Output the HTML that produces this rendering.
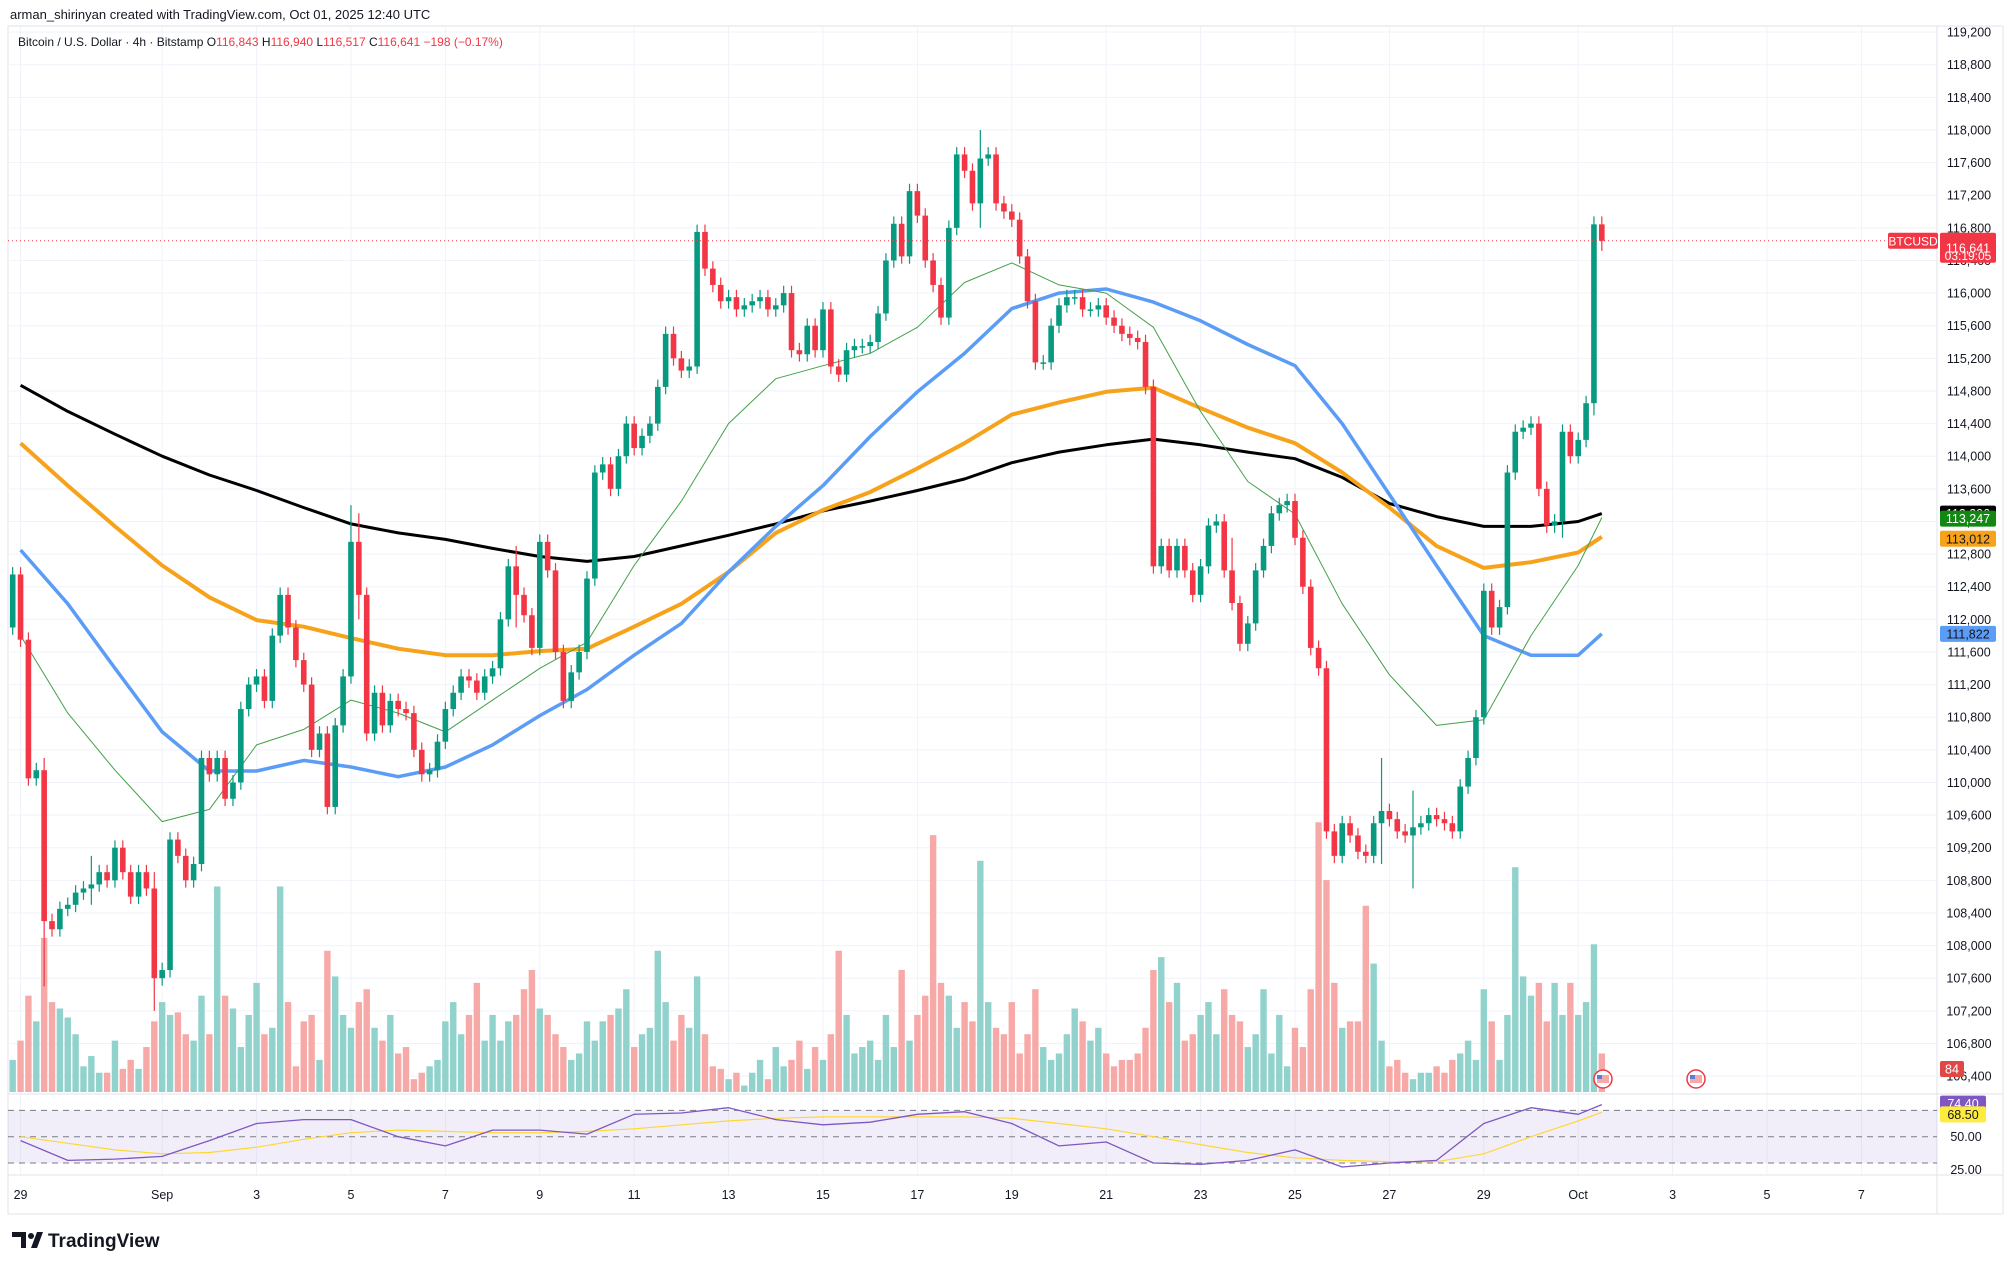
<!DOCTYPE html>
<html><head><meta charset="utf-8"><style>
html,body{margin:0;padding:0;background:#fff;}
body{width:2014px;height:1269px;overflow:hidden;font-family:"Liberation Sans",sans-serif;}
svg text{font-family:"Liberation Sans",sans-serif;}
</style></head><body>
<svg id="chart" width="2014" height="1269" viewBox="0 0 2014 1269" xmlns="http://www.w3.org/2000/svg">
<rect x="0" y="0" width="2014" height="1269" fill="#ffffff"/>
<text x="10" y="19" font-size="13" fill="#131722">arman_shirinyan created with TradingView.com, Oct 01, 2025 12:40 UTC</text>
<rect x="8" y="26" width="1995" height="1188" fill="none" stroke="#e0e3eb" stroke-width="1"/>
<g id="grid"></g>
<g id="rsibg"></g>
<g id="vol"></g>
<g id="ma"></g>
<g id="candles"></g>
<g id="rsi"></g>
<g id="axes"></g>
<g id="tags"></g>
<text x="18" y="46" font-size="12" fill="#131722">Bitcoin / U.S. Dollar · 4h · Bitstamp  <tspan fill="#131722">O</tspan><tspan fill="#f23645">116,843</tspan>  <tspan fill="#131722">H</tspan><tspan fill="#f23645">116,940</tspan>  <tspan fill="#131722">L</tspan><tspan fill="#f23645">116,517</tspan>  <tspan fill="#131722">C</tspan><tspan fill="#f23645">116,641  −198 (−0.17%)</tspan></text>
<g>
<path d="M12 1232 h14 v16 h-5 v-11 h-9z" fill="#131722"/><circle cx="31" cy="1236" r="3" fill="#131722"/><path d="M31 1248 l6 -16 h6 l-6 16z" fill="#131722"/>
<text x="48" y="1247" font-size="19" font-weight="bold" fill="#131722">TradingView</text>
</g>
</svg>
<script>
const closes=[112550,
111750,110050,110150,108300,108200,108450,
108500,108650,108700,108750,108900,108800,
109200,108900,108600,108900,108700,107600,
107700,109300,109100,108800,109000,110300,
110100,110300,109800,110000,110900,111200,
111300,111000,111800,112300,111900,111500,
111200,110400,110600,109700,110700,111300,
112950,112300,110600,111100,110700,111000,
110900,110850,110400,110100,110150,110500,
110900,111100,111300,111250,111100,111300,
111400,112000,112650,112300,112050,111650,
112950,112600,111600,111000,111350,111600,
112500,113800,113900,113600,114000,114400,
114100,114250,114400,114850,115500,115200,
115050,115100,116750,116300,116100,115900,
115950,115800,115850,115900,115950,115800,
115850,116000,115300,115250,115600,115300,
115800,115100,115000,115300,115350,115350,
115400,115750,116400,116850,116450,117250,
116950,116400,116100,115700,116800,117700,
117500,117100,117650,117700,117100,117000,
116900,116450,115900,115150,115150,115600,
115850,115950,115950,115800,115800,115850,
115700,115600,115500,115450,115400,114850,
112650,112900,112600,112900,112600,112300,
112650,113150,113200,112600,112200,111700,
111950,112600,112900,113300,113400,113450,
113000,112400,111650,111400,109400,109100,
109500,109350,109150,109100,109500,109650,
109550,109400,109350,109450,109500,109600,
109550,109500,109400,109950,110300,110800,
112350,111900,112150,113800,114300,114350,
114400,113600,113150,113200,114300,114000,
114200,114650,116843,116641];
const firstOpen=111900;
const wickExtras={3:[110300,107500],9:[109100,108500],17:[108900,107200],42:[113400,111300],43:[113300,112000],63:[112900,111900],122:[118000,116800],154:[113000,112400],173:[110300,109000],177:[109900,108700],196:[113800,113000],200:[116940,114500],201:[116940,116517]};
const volumes=[25,
40,75,55,120,70,65, 58,45,20,28,15,15, 40,18,25,18,35,55,
70,60,62,45,40,75, 45,160,75,65,35,60, 85,45,50,160,70,20,
55,60,25,110,90,60, 50,70,80,50,40,60, 30,35,10,15,20,25,
55,70,45,60,85,40, 60,40,55,60,80,95, 65,60,45,35,25,30,
55,40,55,60,65,80, 35,45,50,110,70,40, 60,50,90,45,20,18,
10,15,5,15,25,10, 35,20,25,40,18,35, 25,45,110,60,30,35,
40,25,60,35,95,40, 60,75,200,85,75,50, 70,55,180,70,50,45,
70,30,45,80,35,25, 30,45,65,55,40,50, 30,20,25,25,30,50,
95,105,70,85,40,45, 60,70,45,80,60,55, 35,45,80,30,60,20,
50,35,80,210,165,85, 50,55,55,145,100,40, 20,25,15,10,15,15,
20,15,25,30,40,25, 80,55,25,60,175,90, 75,85,55,85,60,85,
60,70,115,30];
const ma200=[114870,114550,114270,114000,113770,113580,113370,113170,113060,112980,112870,112770,112710,112770,112900,113030,113170,113330,113450,113580,113720,113920,114050,114140,114210,114140,114050,113970,113740,113420,113260,113140,113140,113200,113296];
const ma100=[114160,113640,113140,112660,112270,111990,111910,111770,111640,111560,111560,111610,111640,111910,112190,112580,113060,113340,113560,113850,114160,114510,114660,114790,114840,114590,114350,114160,113800,113370,112900,112630,112700,112820,113012];
const ma50=[112850,112190,111400,110620,110140,110140,110270,110190,110070,110190,110460,110820,111140,111560,111950,112580,113140,113640,114240,114790,115260,115810,116000,116050,115890,115660,115370,115110,114400,113530,112660,111800,111560,111560,111822];
const ma20=[111800,110850,110150,109520,109670,110460,110650,111010,110850,110620,111010,111400,111720,112660,113450,114400,114950,115110,115260,115580,116130,116370,116100,116000,115580,114550,113690,113290,112190,111320,110700,110770,111800,112660,113247];
const rsiVals=[47,32,33,35,47,60,63,63,50,43,55,55,52,67,68,72,63,59,61,67,69,60,43,46,30,29,32,40,27,30,32,60,72,67,74.4];
const rsiMa=[50,45,40,37,38,42,48,53,55,54,53,53,54,56,59,62,64,65,65,65,65,64,60,56,50,44,38,34,32,31,31,37,50,62,68.5];
const priceTicks=[119200,118800,118400,118000,117600,117200,116800,116400,116000,115600,115200,114800,114400,114000,113600,113200,112800,112400,112000,111600,111200,110800,110400,110000,109600,109200,108800,108400,108000,107600,107200,106800,106400];
const dayLabels=['29','Sep','3','5','7','9','11','13','15','17','19','21','23','25','27','29','Oct','3','5','7'];
const dayOffsets=[0,3,5,7,9,11,13,15,17,19,21,23,25,27,29,31,33,35,37,39];

const NS='http://www.w3.org/2000/svg';
const PLOT_R=1937;
function xK(k){return 20.55+7.867*k;}
function xD(d){return 20.55+47.2*d;}
function yP(p){return 32.1+(119200-p)*0.08156;}
function yV(v){return 1092-v*1.2844;}
function yR(v){return (885-(v-50)*1.025)*1.2844;}
function mk(tag,attrs,parent){const e=document.createElementNS(NS,tag);for(const a in attrs)e.setAttribute(a,attrs[a]);parent.appendChild(e);return e;}
const G=id=>document.getElementById(id);

priceTicks.forEach(p=>{const l=mk('line',{x1:8,x2:PLOT_R,y1:yP(p),y2:yP(p),stroke:'#f0f3fa','stroke-width':1},G('grid'));

});
dayOffsets.forEach(d=>{const l=mk('line',{x1:xD(d),x2:xD(d),y1:26,y2:1175,stroke:'#f0f3fa','stroke-width':1},G('grid'));

});
mk('line',{x1:PLOT_R,x2:PLOT_R,y1:26,y2:1214,stroke:'#e0e3eb'},G('grid'));
mk('line',{x1:8,x2:2003,y1:1094,y2:1094,stroke:'#e0e3eb'},G('grid'));
mk('line',{x1:8,x2:2003,y1:1175,y2:1175,stroke:'#e0e3eb'},G('grid'));

const bg=mk('rect',{x:8,y:yR(70),width:PLOT_R-8,height:yR(30)-yR(70),fill:'#7e57c2','fill-opacity':0.1},G('rsibg'));


[70,50,30].forEach(v=>{const l=mk('line',{x1:8,x2:PLOT_R,y1:yR(v),y2:yR(v),stroke:'#787b86','stroke-dasharray':'6,5','stroke-width':1},G('rsibg'));

});

const UP='#089981',DN='#f23645';
closes.forEach((c,i)=>{
 const k=i-1;const o=i===0?firstOpen:closes[i-1];
 const up=c>=o;const col=up?UP:DN;const x=xK(k);
 let h=Math.max(o,c)+90,l=Math.min(o,c)-90;
 if(wickExtras[k]){h=Math.max(h,wickExtras[k][0]);l=Math.min(l,wickExtras[k][1]);}
 const vb=mk('rect',{x:x-3.2,y:yV(volumes[i]),width:6.4,height:volumes[i]*1.2844,fill:up?'#92d2cc':'#f7a9a7'},G('vol'));
 
 
 const w=mk('line',{x1:x,x2:x,y1:yP(h),y2:yP(l),stroke:col,'stroke-width':1.2},G('candles'));
 
 
 const top=yP(Math.max(o,c)),bh=Math.max(1.5,yP(Math.min(o,c))-top);
 const b=mk('rect',{x:x-2.8,y:top,width:5.6,height:bh,fill:col},G('candles'));
 
 
});

function dayX(j,n){return j===n-1?xK(201):xD(j);}
function line(arr,yf,col,wd,name,parent){
 const pts=arr.map((v,j)=>dayX(j,arr.length).toFixed(1)+','+yf(v).toFixed(1)).join(' ');
 const p=mk('polyline',{points:pts,fill:'none',stroke:col,'stroke-width':wd,'stroke-linejoin':'round'},parent);
 
 
}
line(ma200,yP,'#000000',3,'ma-200-line',G('ma'));
line(ma100,yP,'#f7a21b',4,'ma-100-line',G('ma'));
line(ma50,yP,'#5b9cf6',3.5,'ma-50-line',G('ma'));
line(ma20,yP,'#43a047',1,'ma-20-line',G('ma'));
line(rsiMa,yR,'#fdd835',1.2,'rsi-ma-line',G('rsi'));
line(rsiVals,yR,'#7e57c2',1.3,'rsi-line',G('rsi'));

const lp=mk('line',{x1:8,x2:1890,y1:yP(116641),y2:yP(116641),stroke:'#f23645','stroke-dasharray':'1,3','stroke-width':1},G('tags'));



priceTicks.forEach(p=>{const t=mk('text',{x:1969,y:yP(p)+4.5,'font-size':12.5,fill:'#131722','text-anchor':'middle'},G('axes'));
t.textContent=p.toLocaleString('en-US');

});
[[50,'50.00'],[25,'25.00']].forEach(([v,s])=>{const t=mk('text',{x:1966,y:yR(v)+4.5,'font-size':12.5,fill:'#131722','text-anchor':'middle'},G('axes'));
t.textContent=s;

});
dayLabels.forEach((s,i)=>{const t=mk('text',{x:xD(dayOffsets[i]),y:1199,'font-size':12.5,fill:'#131722','text-anchor':'middle'},G('axes'));
t.textContent=s;

});

function tag(x,y,w,h,bgc,fg,txt,name,fs){
 const g=mk('g',{},G('tags'));
 
 
 mk('rect',{x:x,y:y,width:w,height:h,fill:bgc,rx:2},g);
 const t=mk('text',{x:x+w/2,y:y+h/2+4.5,'font-size':fs||12.5,fill:fg,'text-anchor':'middle'},g);t.textContent=txt;
}
tag(1888,yP(116641)-8,50,16,'#f23645','#fff','BTCUSD','symbol-tag',12);
tag(1940,yP(116641)-8,56,30,'#f23645','#fff','116,641','last-price-tag');
const cd=mk('text',{x:1968,y:yP(116641)+19,'font-size':12,fill:'#fff','text-anchor':'middle'},G('tags'));cd.textContent='03:19:05';


tag(1940,yP(113296)-8,56,16,'#000000','#fff','113,296','ma200-tag');
tag(1940,yP(113247)-7,56,16,'#118811','#fff','113,247','ma20-tag');
tag(1940,yP(113012)-6,56,16,'#f7a21b','#131722','113,012','ma100-tag');
tag(1940,yP(111822)-8,56,16,'#5b9cf6','#131722','111,822','ma50-tag');
tag(1940,1061,24,16,'#e04848','#fff','84','volume-tag');
tag(1940,yR(74.4)-9,46,16,'#7e57c2','#fff','74.40','rsi-tag');
tag(1940,yR(68.5)-6,46,16,'#ffeb3b','#131722','68.50','rsi-ma-tag');

[1603,1696].forEach(x=>{const g=mk('g',{},G('tags'));


mk('circle',{cx:x,cy:1079,r:9,fill:'#fff',stroke:'#f23645','stroke-width':1.5},g);
mk('rect',{x:x-6,y:1075,width:12,height:8,fill:'#f7a9a7'},g);
mk('rect',{x:x-6,y:1075,width:5,height:4,fill:'#5b7bd6'},g);});
</script>
</body></html>
